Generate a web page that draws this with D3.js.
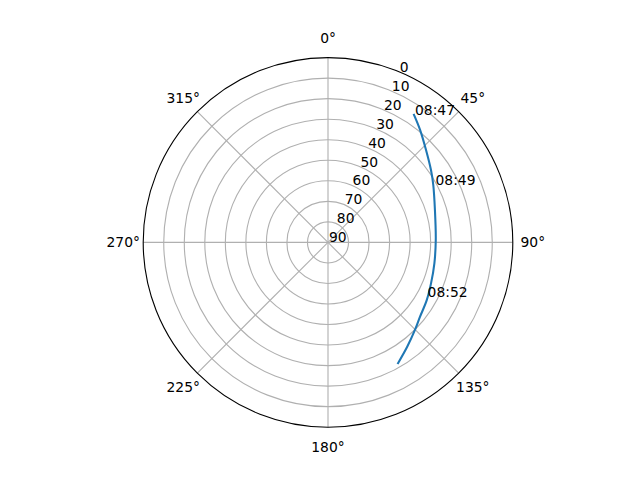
<!DOCTYPE html>
<html>
<head>
<meta charset="utf-8">
<script src="https://cdn.jsdelivr.net/npm/d3@7"></script>
<style>
  body { margin: 0; background: #fff; }
  text { font-family: "DejaVu Sans", sans-serif; font-size: 13.89px; fill: #000; }
</style>
</head>
<body>
<div id="chart"></div>
<script>
// satellite pass, azimuth (deg) and elevation (deg)
const azimuth = [34.0, 39.3, 46.7, 54.9, 61.4, 73.2, 88.7, 101.1, 111.7, 120.3, 128.9, 135.2, 142.8, 149.9]
const elevation = [15.1, 19.2, 24.4, 28.7, 31.6, 35.6, 37.5, 37.2, 36.0, 34.3, 32.4, 29.9, 26.2, 22.0]

const timeLabels = ["08:47", "08:49", "08:52"]
const labelAz = [34.0, 61.7, 119.2]
const labelEl = [15.1, 31.1, 35.0]

const angleTicks = [0, 45, 90, 135, 180, 225, 270, 315]
const elevTicks = [0, 10, 20, 30, 40, 50, 60, 70, 80, 90]

const width = 640
const height = 480
const cx = 328
const cy = 242.4
const R = 184.8

const svg = d3.select("#chart")
    .append("svg")
    .attr("width", width)
    .attr("height", height)

const g = svg.append("g")
    .attr("transform", `translate(${cx},${cy})`)

const r = d3.scaleLinear()
    .domain([90, 0])
    .range([0, R])

const rad = d => d * Math.PI / 180
const px = (a, rr) => rr * Math.sin(rad(a))
const py = (a, rr) => -rr * Math.cos(rad(a))

// grid rings
g.append("g")
    .selectAll("circle")
    .data(elevTicks.filter(d => d > 0 && d < 90))
    .join("circle")
    .attr("r", d => r(d))
    .attr("fill", "none")
    .attr("stroke", "#b0b0b0")
    .attr("stroke-width", 1.11)

// spokes
g.append("g")
    .selectAll("line")
    .data(angleTicks)
    .join("line")
    .attr("x1", 0)
    .attr("y1", 0)
    .attr("x2", d => px(d, R))
    .attr("y2", d => py(d, R))
    .attr("stroke", "#b0b0b0")
    .attr("stroke-width", 1.11)

// outer spine
g.append("circle")
    .attr("r", R)
    .attr("fill", "none")
    .attr("stroke", "#000")
    .attr("stroke-width", 1.11)

// angle labels
g.append("g")
    .selectAll("text")
    .data(angleTicks)
    .join("text")
    .attr("x", d => px(d, R + 20))
    .attr("y", d => py(d, R + 20))
    .attr("text-anchor", "middle")
    .attr("dominant-baseline", "central")
    .text(d => d + "°")

// radial labels at 22.5deg
g.append("g")
    .selectAll("text")
    .data(elevTicks)
    .join("text")
    .attr("x", d => px(22.5, r(d)) + 1)
    .attr("y", d => py(22.5, r(d)))
    .attr("text-anchor", "start")
    .text(d => d)

// track
const track = azimuth.map((a, i) => [rad(a), r(elevation[i])])

g.append("path")
    .datum(track)
    .attr("fill", "none")
    .attr("stroke", "#1f77b4")
    .attr("stroke-width", 2.08)
    .attr("stroke-linecap", "square")
    .attr("d", d3.lineRadial().curve(d3.curveCatmullRom))

// time labels
g.append("g")
    .selectAll("text")
    .data(timeLabels)
    .join("text")
    .attr("x", (d, i) => px(labelAz[i], r(labelEl[i])) + 1)
    .attr("y", (d, i) => py(labelAz[i], r(labelEl[i])))
    .attr("text-anchor", "start")
    .text(d => d)
</script>
</body>
</html>
